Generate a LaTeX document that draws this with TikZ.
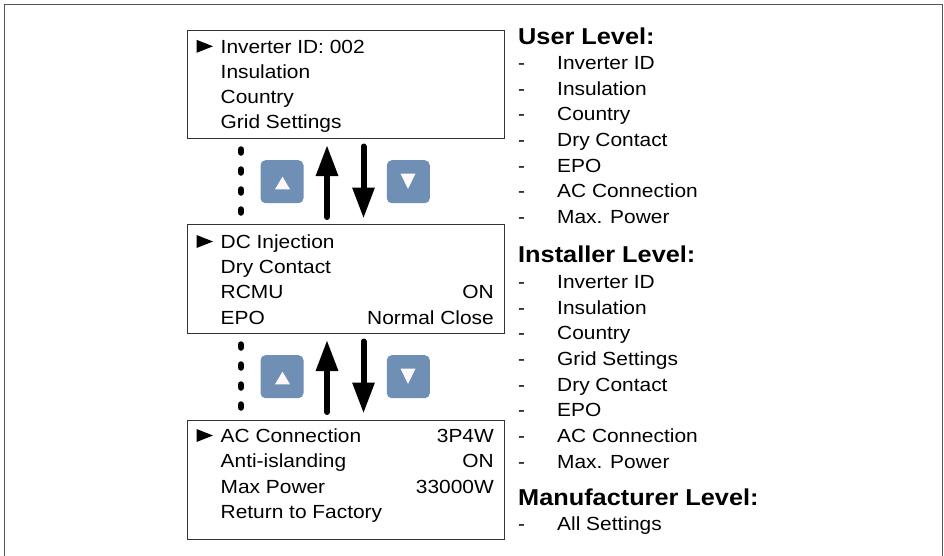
\documentclass[tikz,border=0pt]{standalone}
\usepackage{fontspec}
\setmainfont{Liberation Sans}[FakeStretch=1.1]
\usetikzlibrary{arrows.meta}
\definecolor{btnblue}{HTML}{6F8FB4}
\definecolor{btntri}{HTML}{FFF8FA}
\definecolor{framegray}{HTML}{555555}
\definecolor{boxgray}{HTML}{333333}
\tikzset{
  screen/.style={draw=boxgray, line width=1.4pt, anchor=north west, inner sep=0pt},
  txt/.style={anchor=base west, inner sep=0pt, font=\fontsize{19}{22}\selectfont},
  rtxt/.style={anchor=base east, inner sep=0pt, font=\fontsize{19}{22}\selectfont},
  head/.style={anchor=base west, inner sep=0pt, font=\fontsize{23}{27}\selectfont\bfseries},
  btn/.style={fill=btnblue, rounded corners=5pt, draw=none, minimum width=43pt, minimum height=43pt, inner sep=0pt},
  navarrow/.style={line width=6pt, line cap=round, -{Triangle[length=31pt,width=21pt]}},
  dotline/.style={line width=6.5pt, line cap=round, dash pattern=on 3pt off 17pt},
  pointer/.style={fill=black}
}
\begin{document}
\begin{tikzpicture}[x=1pt,y=-1pt]
\useasboundingbox (0,0) rectangle (944,555);
\fill[white] (0,0) rectangle (944,555);
% outer frame
\draw[framegray, line width=1.5pt] (4.5,600) -- (4.5,4.5) -- (942.5,4.5) -- (942.5,600);

% screens
\node[screen, minimum width=317.5pt, minimum height=107.5pt] (s1) at (186.5,30) {};
\node[screen, minimum width=317.5pt, minimum height=109pt] (s2) at (186.5,224) {};
\node[screen, minimum width=317.5pt, minimum height=118.5pt] (s3) at (186.5,420) {};

% pointers
\foreach \b in {53.3, 248.5, 442.5}{
  \fill (196.5,\b-13.5) -- (196.5,\b-0.5) -- (213,\b-7) -- cycle;
}

% screen 1 text
\node[txt] (t11) at (220.5,53.3) {Inverter ID: 002};
\node[txt] (t12) at (220.5,78.5) {Insulation};
\node[txt] (t13) at (220.5,103.7) {Country};
\node[txt] (t14) at (220.5,128.9) {Grid Settings};

% screen 2 text
\node[txt] (t21) at (220.5,248.5) {DC Injection};
\node[txt] (t22) at (220.5,273.7) {Dry Contact};
\node[txt] (t23) at (220.5,298.9) {RCMU};
\node[rtxt] (v23) at (494,298.9) {ON};
\node[txt] (t24) at (220.5,324.1) {EPO};
\node[rtxt] (v24) at (494,324.1) {Normal Close};

% screen 3 text
\node[txt] (t31) at (220.5,442.5) {AC Connection};
\node[rtxt] (v31) at (494,442.5) {3P4W};
\node[txt] (t32) at (220.5,467.8) {Anti-islanding};
\node[rtxt] (v32) at (494,467.8) {ON};
\node[txt] (t33) at (220.5,493.1) {Max Power};
\node[rtxt] (v33) at (494,493.1) {33000W};
\node[txt] (t34) at (220.5,518.4) {Return to Factory};

% navigation sets
\foreach \o/\n in {0/a, 195/b}{
  \draw[dotline] (241,149.5+\o) -- (241,213+\o);
  \node[btn] (up\n) at (282,181.7+\o) {};
  \node[btn] (dn\n) at (408.3,181.7+\o) {};
  \fill[btntri] (275,189.3+\o) -- (290,189.3+\o) -- (282.5,176.7+\o) -- cycle;
  \fill[btntri] (400.5,173.5+\o) -- (415.5,173.5+\o) -- (408,189+\o) -- cycle;
  \coordinate (ua\n) at (327,217+\o);
  \coordinate (ub\n) at (327,145+\o);
  \coordinate (da\n) at (363.5,146.5+\o);
  \coordinate (db\n) at (363.5,218.5+\o);
  \draw[navarrow] (ua\n) -- (ub\n);
  \draw[navarrow] (da\n) -- (db\n);
}

% right-hand lists
\node[head] (h1) at (518,44) {User Level:};
\foreach \t [count=\i from 0] in {Inverter ID, Insulation, Country, Dry Contact, EPO, AC Connection, Max. Power}{
  \node[txt] (ud\i) at (518,69.5+25.67*\i) {-};
  \node[txt] (ui\i) at (557,69.5+25.67*\i) {\t};
}
\node[head] (h2) at (518,262) {Installer Level:};
\foreach \t [count=\i from 0] in {Inverter ID, Insulation, Country, Grid Settings, Dry Contact, EPO, AC Connection, Max. Power}{
  \node[txt] (id\i) at (518,288.5+25.67*\i) {-};
  \node[txt] (ii\i) at (557,288.5+25.67*\i) {\t};
}
\node[head] (h3) at (518,505) {Manufacturer Level:};
\node[txt] (md) at (518,530.5) {-};
\node[txt] (mi) at (557,530.5) {All Settings};
\end{tikzpicture}
\end{document}
